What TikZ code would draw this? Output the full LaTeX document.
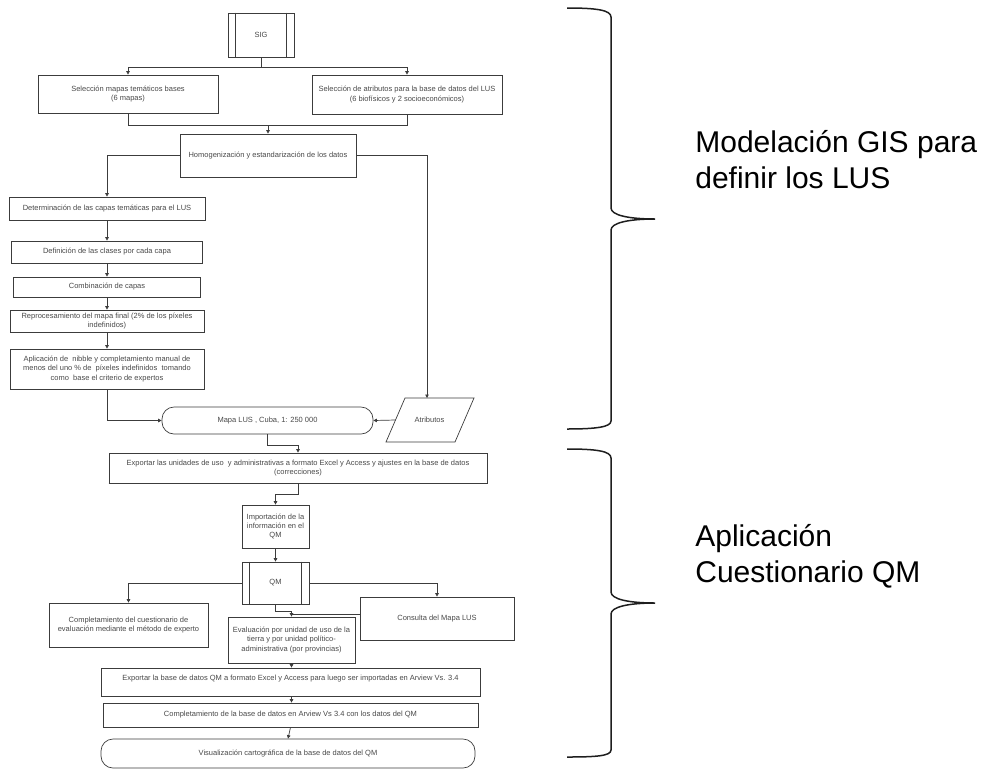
\documentclass[tikz,border=0pt]{standalone}
\usepackage{fontspec}
\setmainfont{Liberation Sans}
\usetikzlibrary{arrows.meta}
\definecolor{linegray}{HTML}{3C3C3C}
\definecolor{textgray}{HTML}{484848}
\definecolor{bracegray}{HTML}{1E1E1E}
\begin{document}
\begin{tikzpicture}[x=1pt, y=-1pt, line width=0.7pt,
  every node/.style={font=\fontsize{7.5}{9.3}\selectfont, text=textgray},
  box/.style={draw=linegray, rectangle, inner sep=0pt, align=center},
  rbox/.style={box, rounded corners=12pt},
  arr/.style={draw=linegray, -{Triangle[length=3.5pt,width=3.5pt]}},
  lnk/.style={draw=linegray},
  brace/.style={draw=bracegray, line width=1.5pt},
  side/.style={font=\fontsize{30}{36}\selectfont, text=black, align=left, anchor=base west, inner sep=0pt}]
  \useasboundingbox (0,0) rectangle (987,769);
  \node[box, minimum width=66, minimum height=44] (sig) at (261,35) {SIG};
  \node[box, minimum width=180, minimum height=38] (mapas) at (128,94) {Selección mapas temáticos bases\\(6 mapas)};
  \node[box, minimum width=190, minimum height=39] (atrib) at (407,94.5) {Selección de atributos para la base de datos del LUS\\(6 biofísicos y 2 socioeconómicos)};
  \node[box, minimum width=176, minimum height=43] (homog) at (268,155.5) {Homogenización y estandarización de los datos};
  \node[box, minimum width=196, minimum height=23] (determ) at (107,208.5) {Determinación de las capas temáticas para el LUS};
  \node[box, minimum width=191, minimum height=22] (defin) at (107,252) {Definición de las clases por cada capa};
  \node[box, minimum width=187, minimum height=20] (combin) at (107,287) {Combinación de capas};
  \node[box, minimum width=194, minimum height=22] (reproc) at (107,321) {Reprocesamiento del mapa final (2\% de los píxeles\\indefinidos)};
  \node[box, minimum width=194, minimum height=40] (aplic) at (107,369) {Aplicación de \ nibble y completamiento manual de\\menos del uno \% de \ píxeles indefinidos \ tomando\\como \ base el criterio de expertos};
  \node[rbox, minimum width=211, minimum height=27] (mapa) at (267.5,420.5) {Mapa LUS , Cuba, 1: 250 000};
  \node (attr) at (429.5,420) {Atributos};
  \coordinate (attrw) at (395.5,420);
  \coordinate (attrn) at (427,398);
  \draw[linegray] (386,442) -- (455,442) -- (474,398) -- (405,398) -- cycle;
  \node[box, minimum width=378, minimum height=30] (exp1) at (298,468) {Exportar las unidades de uso \ y administrativas a formato Excel y Access y ajustes en la base de datos\\(correcciones)};
  \node[box, minimum width=67, minimum height=43] (imp) at (275.5,526.5) {Importación de la\\información en el\\QM};
  \node[box, minimum width=67, minimum height=42] (qm) at (275.5,583) {QM};
  \node[box, minimum width=159, minimum height=44] (compl) at (128.5,625) {Completamiento del cuestionario de\\evaluación mediante el método de experto};
  \node[box, minimum width=154, minimum height=43] (cons) at (437,618.5) {Consulta del Mapa LUS};
  \node[box, minimum width=127, minimum height=46] (eval) at (291.5,640) {Evaluación por unidad de uso de la\\tierra y por unidad político-\\administrativa (por provincias)};
  \node[box, minimum width=379, minimum height=28] (exp2) at (290.5,682) {Exportar la base de datos QM a formato Excel y Access para luego ser importadas en Arview Vs. 3.4\\ \mbox{}};
  \node[box, minimum width=375, minimum height=24] (compb) at (290.5,715) {Completamiento de la base de datos en Arview Vs 3.4 con los datos del QM};
  \node[rbox, minimum width=374, minimum height=29] (visual) at (288,753.5) {Visualización cartográfica de la base de datos del QM};
  \foreach \n in {sig,qm}{
    \draw[lnk] ([xshift=8]\n.north west) -- ([xshift=8]\n.south west);
    \draw[lnk] ([xshift=-8]\n.north east) -- ([xshift=-8]\n.south east);
  }
  \draw[line width=1.4pt, linegray] (exp1.south west) -- (exp1.south east);
  \draw[line width=1.4pt, linegray] (imp.south west) -- (imp.south east);
  \coordinate (s1) at (261,67);
  \coordinate (m1) at (268,125);
  \draw[lnk] (sig.south) -- (s1);
  \draw[arr] (s1) -| (mapas.north);
  \draw[arr] (s1) -| (atrib.north);
  \draw[lnk] (mapas.south) |- (m1);
  \draw[lnk] (atrib.south) |- (m1);
  \draw[arr] (m1) -- (homog.north);
  \draw[arr] (homog.west) -| (determ.north);
  \draw[arr] (homog.east) -| (attrn);
  \draw[arr] (determ) -- (defin);
  \draw[arr] (defin) -- (combin);
  \draw[arr] (combin) -- (reproc);
  \draw[arr] (reproc) -- (aplic);
  \draw[arr] (aplic.south) |- (mapa.west);
  \draw[arr] (attrw) -- (mapa.east);
  \draw[arr] (mapa.south) -- ++(0,11) -| (exp1.north);
  \draw[arr] (exp1.south) -- ++(0,11) -| (imp.north);
  \draw[arr] (imp) -- (qm);
  \draw[arr] (qm.west) -| (compl.north);
  \draw[arr] (qm.east) -| (cons.north);
  \coordinate (jq) at (291.5,614);
  \draw[lnk] (qm.south) -- ++(0,7) -| (jq);
  \draw[arr] (jq) -- (eval.north);
  \draw[lnk] (cons.west |- jq) -- (jq);
  \draw[arr] (eval.south) -- (eval.south |- exp2.north);
  \draw[arr] (eval.south |- exp2.south) -- (eval.south |- compb.north);
  \draw[arr] (compb.south) -- (visual.north);
  \draw[brace] (567,8) .. controls (596,8) and (611,10) .. (611,17) -- (611,208)
    .. controls (611,215) and (628,219) .. (655,219)
    .. controls (628,219) and (611,223) .. (611,230) -- (611,421)
    .. controls (611,427) and (596,429) .. (567,429);
  \draw[brace] (567,449) .. controls (596,449) and (611,451) .. (611,458) -- (611,592)
    .. controls (611,599) and (628,603) .. (655,603)
    .. controls (628,603) and (611,607) .. (611,614) -- (611,750)
    .. controls (611,756) and (596,757) .. (567,757);
  \node[side] (gis) at (695,188) {Modelación GIS para\\definir los LUS};
  \node[side] (qmlab) at (695,582) {Aplicación\\Cuestionario QM};
\end{tikzpicture}
\end{document}
